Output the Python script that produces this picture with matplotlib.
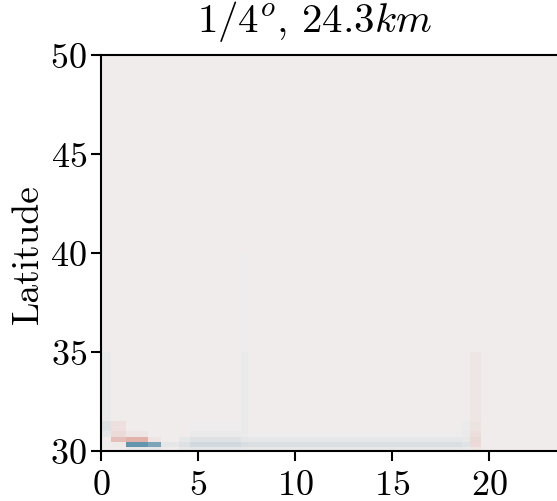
# velocity anomaly section, 1/4 degree run
import numpy as np
import matplotlib
matplotlib.use("Agg")
import matplotlib.pyplot as plt
from matplotlib.colors import LinearSegmentedColormap

plt.rcParams["font.family"] = "serif"
plt.rcParams["font.serif"] = ["cmr10"]
plt.rcParams["mathtext.fontset"] = "cm"
plt.rcParams["axes.formatter.use_mathtext"] = True

# cell edges (non-uniform, finer near the southern boundary)
lon_edges = [0, 0.5, 1.3, 2.4, 3.1, 4.0, 4.6, 7.2, 7.6, 18.6, 19.0, 19.6, 30]
lat_edges = [30, 30.2, 30.45, 30.7, 31.0, 31.5, 35, 40, 50]

# normalised anomaly per cell, rows = latitude bands (south to north)
field = [
    [0.00, 0.00, -0.06, -0.06, 0.00, -0.04, -0.06, -0.05, -0.04, -0.03, 0.05, 0.00],
    [0.00, 0.03, -0.72, -0.60, -0.06, -0.10, -0.16, -0.12, -0.11, -0.08, 0.12, 0.00],
    [0.00, 0.30, 0.38, 0.06, 0.00, -0.05, -0.09, -0.06, -0.05, -0.04, 0.13, 0.00],
    [-0.06, 0.12, 0.04, 0.00, 0.00, 0.00, -0.03, -0.03, -0.01, -0.03, 0.10, 0.00],
    [-0.10, 0.08, 0.00, 0.00, 0.00, 0.00, -0.01, -0.03, 0.00, -0.02, 0.07, 0.00],
    [-0.03, 0.00, 0.00, 0.00, 0.00, 0.00, 0.00, -0.025, 0.00, 0.00, 0.045, 0.00],
    [0.00, 0.00, 0.00, 0.00, 0.00, 0.00, 0.00, -0.015, 0.00, 0.00, 0.00, 0.00],
    [0.00, 0.00, 0.00, 0.00, 0.00, 0.00, 0.00, 0.00, 0.00, 0.00, 0.00, 0.00],
]

cmap = LinearSegmentedColormap.from_list(
    "anom", [(45 / 255, 115 / 255, 150 / 255),
             (240 / 255, 237 / 255, 237 / 255),
             (200 / 255, 80 / 255, 60 / 255)])

fig = plt.figure(figsize=(5.57, 5.02), dpi=100)
# axes run past the right edge of the figure
ax = fig.add_axes([101 / 557, 1 - 452 / 502, 30 * 19.4 / 557, 396 / 502])

ax.pcolormesh(lon_edges, lat_edges, np.array(field), cmap=cmap,
              vmin=-1, vmax=1, shading="flat")
ax.set_xlim(0, 30)
ax.set_ylim(30, 50)
ax.set_xticks([0, 5, 10, 15, 20])
ax.set_yticks([30, 35, 40, 45, 50])
ax.tick_params(labelsize=26, length=7, width=1.5)
ax.tick_params(axis="y", pad=3)
ax.tick_params(axis="x", pad=6)
for s in ax.spines.values():
    s.set_linewidth(1.5)
ax.set_ylabel("Latitude", fontsize=27, labelpad=4)
ax.text(11.0, 51.2, r"$1/4^o,\,24.3km$", fontsize=29.5, ha="center", va="baseline")

fig.savefig("out.png", dpi=100)
